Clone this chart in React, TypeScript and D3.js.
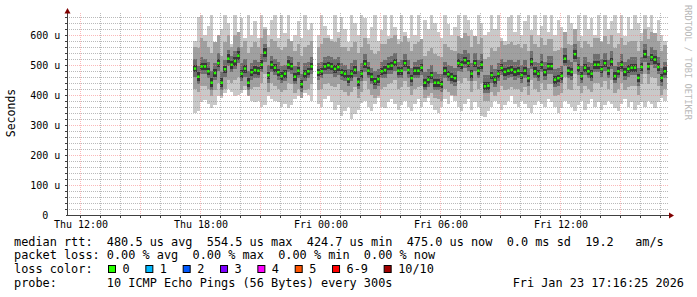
import React from 'react';
import * as d3 from 'd3';

// ---- data (values in microseconds, one sample every 10 minutes from Thu 17:45) ----
const medianUs = [
  487,460,494,494,478,440,472,505,440,485,520,500,512,530,470,487,440,475,482,480,500,540,465,500,490,475,462,470,500,495,460,480,435,470,478,
  494,NaN,474,478,494,498,494,486,492,474,470,452,470,483,443,470,503,480,460,445,452,478,482,494,497,508,480,480,505,482,455,480,480,490,440,450,
  465,440,440,435,480,468,460,455,505,500,515,505,470,505,480,500,428,430,465,450,470,489,476,480,483,476,480,465,480,455,510,478,470,500,475,495,
  495,450,455,463,520,480,476,535,490,462,490,478,470,500,500,485,505,480,510,462,478,500,476,486,490,490,456,492,535,494,525,517,492,456,478,
];
const maxUs = [
  580,660,667,600,630,667,575,585,620,667,640,570,667,610,655,590,667,600,645,590,667,625,600,650,667,590,667,605,667,580,600,645,590,667,615,
  640,NaN,600,667,630,600,585,667,610,660,620,575,667,640,600,667,655,590,625,667,580,615,667,595,667,625,585,667,610,590,667,600,667,580,650,620,
  667,640,610,590,667,635,600,625,667,580,667,650,615,585,667,640,600,610,667,620,667,590,580,660,667,610,667,600,645,667,615,667,600,630,667,610,
  667,600,650,625,585,667,640,610,667,595,667,620,655,600,667,580,667,620,645,667,605,667,595,660,620,667,640,605,667,625,667,585,650,600,580,
];
const minUs = [
  340,345,375,383,370,355,365,395,390,405,420,410,395,400,408,415,400,380,375,380,360,365,395,385,380,375,360,370,355,365,385,395,390,405,400,
  380,NaN,370,360,385,395,375,350,365,330,345,360,320,335,350,372,380,360,345,370,390,360,355,375,385,370,350,365,380,360,345,370,385,360,375,390,
  365,350,340,360,385,370,395,380,360,345,370,385,350,375,360,330,325,345,360,380,370,350,365,380,395,370,360,380,370,355,340,365,380,370,360,385,
  375,360,340,355,380,370,360,345,365,380,350,370,385,360,375,350,365,380,370,355,345,370,385,360,375,350,365,375,360,380,370,355,375,390,380,
];
const midHiUs = [
  560,555,590,580,560,540,575,600,530,575,600,560,600,610,560,580,540,560,575,560,590,620,560,585,580,560,550,560,585,580,545,570,530,560,565,
  580,NaN,560,570,590,590,580,575,590,560,560,545,560,575,540,560,590,570,550,535,545,570,570,585,590,600,570,575,595,575,545,570,575,585,530,545,
  555,535,530,525,570,560,550,545,595,590,605,595,560,595,570,590,520,525,555,545,560,580,565,570,575,565,570,555,570,545,600,570,560,590,565,585,
  585,545,550,555,610,570,565,620,580,555,580,570,560,590,590,575,595,570,600,555,570,590,565,575,580,580,545,580,620,585,610,605,580,545,565,
];
const midLoUs = [
  420,410,430,430,420,395,415,440,395,420,450,440,450,460,415,430,395,420,425,425,440,470,410,440,430,420,410,415,440,435,405,420,390,415,420,
  435,NaN,415,420,435,440,430,425,435,415,410,395,410,425,390,410,445,420,400,390,395,420,425,435,440,450,420,425,445,425,400,420,425,430,390,395,
  405,390,385,380,420,410,400,395,445,440,455,445,410,445,420,440,380,380,410,395,410,430,415,420,425,420,420,410,425,400,450,420,410,440,415,435,
  435,395,400,405,460,420,415,470,430,405,430,420,410,440,440,425,445,420,450,405,420,440,415,425,430,430,400,435,470,435,460,455,430,400,420,
];
const coreHiUs = [
  520,495,525,520,510,480,505,540,475,515,550,530,545,560,505,520,480,505,515,510,535,570,500,530,520,510,495,500,530,525,495,510,470,505,510,
  525,NaN,505,510,525,530,525,520,525,505,500,485,505,515,480,505,535,510,490,480,485,510,515,525,530,540,510,515,535,515,490,510,515,520,475,485,
  500,475,470,470,510,500,495,490,540,535,550,540,505,540,515,535,465,465,500,485,505,520,510,515,515,510,515,500,515,490,545,510,505,535,510,530,
  530,485,490,495,555,515,510,570,525,495,525,510,505,535,535,520,540,515,545,495,510,535,510,520,525,525,490,525,570,530,560,550,525,490,510,
];
const coreLoUs = [
  460,435,470,470,455,415,450,480,415,460,495,475,485,505,445,460,415,450,455,455,475,510,440,475,465,450,440,445,475,470,435,455,410,445,455,
  470,NaN,450,455,470,470,470,460,465,450,445,430,445,460,420,445,475,455,435,420,430,455,455,470,470,480,455,455,480,455,430,455,455,465,415,425,
  440,415,415,410,455,445,435,430,480,475,490,480,445,480,455,475,405,405,440,425,445,465,450,455,460,450,455,440,455,430,485,455,445,475,450,470,
  470,425,430,440,495,455,450,510,465,440,465,455,445,475,475,460,480,455,485,440,455,475,450,460,465,465,430,470,510,470,500,490,470,430,455,
];
const innerHiUs = [
  500,475,505,508,490,455,485,520,455,498,535,512,525,545,482,500,455,488,495,492,515,555,478,512,502,488,475,482,515,508,472,494,450,482,490,
  506,NaN,488,490,508,510,506,500,505,486,484,465,482,496,456,484,516,492,474,458,465,490,495,508,510,520,494,492,518,496,468,492,494,503,454,463,
  478,454,452,448,494,480,474,468,520,512,528,518,484,518,494,514,442,444,478,464,484,502,490,494,496,490,492,478,494,468,524,492,484,514,488,508,
  508,464,468,476,534,494,490,550,504,476,504,492,484,514,512,498,518,494,524,476,492,514,490,500,504,503,470,506,550,508,538,530,506,470,492,
];
const innerLoUs = [
  475,448,482,482,466,428,460,492,428,472,505,488,498,515,458,474,428,462,470,468,488,525,452,488,478,462,450,458,488,482,448,468,422,458,466,
  482,NaN,462,466,482,486,482,474,480,462,458,440,458,470,430,458,490,468,448,432,440,466,470,482,484,496,468,468,492,470,442,468,468,478,428,438,
  452,428,428,422,468,456,448,442,492,488,502,492,458,492,468,488,416,418,452,438,458,476,464,468,470,464,468,452,468,442,496,466,458,488,462,482,
  482,438,442,450,506,468,464,520,478,450,478,466,458,488,488,472,492,468,496,450,466,488,464,474,478,478,444,480,522,482,512,504,480,444,466,
];

const yTickValues = [0, 100, 200, 300, 400, 500, 600];
const yTickLabels = ['0  ', '100 u', '200 u', '300 u', '400 u', '500 u', '600 u'];
const xTickLabels = ['Thu 12:00', 'Thu 18:00', 'Fri 00:00', 'Fri 06:00', 'Fri 12:00'];
const lossLabels = ['0', '1', '2', '3', '4', '5', '6-9', '10/10'];
const lossColors = ['#26ff00', '#00b8ff', '#0059ff', '#7e00ff', '#ff00ff', '#ff5500', '#ff0000', '#a10000'];
const legendLines = [
  'median rtt:  480.5 us avg  554.5 us max  424.7 us min  475.0 us now  0.0 ms sd  19.2   am/s',
  'packet loss: 0.00 % avg  0.00 % max  0.00 % min  0.00 % now',
  'loss color:',
  'probe:       10 ICMP Echo Pings (56 Bytes) every 300s',
];
const dateStamp = 'Fri Jan 23 17:16:25 2026';

const MONO = "'DejaVu Sans Mono', monospace";
const PRE: React.CSSProperties = { whiteSpace: 'pre' };

export default function App() {
  const W = 697, H = 297;
  const left = 67, right = 669, top = 13, bottom = 215;
  const x = d3.scaleTime()
    .domain([new Date(2026, 0, 22, 11, 21), new Date(2026, 0, 23, 17, 27)])
    .range([left, right]);
  const y = d3.scaleLinear().domain([0, 673]).range([bottom, top]);
  const firstSample = new Date(2026, 0, 22, 17, 45);
  const stepMs = 10 * 60 * 1000;
  const tAt = (i: number) => new Date(firstSample.getTime() + i * stepMs);

  const hours = d3.timeHour.range(x.domain()[0], x.domain()[1]);
  const px = (v: number) => Math.round(v) + 0.5;

  const minorY = d3.range(20, 673, 20).filter((v) => v % 100 !== 0);
  const majorY = yTickValues.filter((v) => v > 0);

  const bands: [number[], number[], string][] = [
    [minUs, maxUs, '#c9c9c9'],
    [midLoUs, midHiUs, '#a0a0a0'],
    [coreLoUs, coreHiUs, '#6e6e6e'],
    [innerLoUs, innerHiUs, '#383838'],
  ];

  const advance = 7.14;
  const boxes: { bx: number; label: string; color: string }[] = [];
  let bx = 108;
  lossLabels.forEach((lab, i) => {
    boxes.push({ bx, label: lab, color: lossColors[i] });
    bx = bx + 15 + lab.length * advance + 15.2;
  });

  return (
    <svg width={W} height={H} style={{ position: 'absolute', left: 0, top: 0, background: '#fff' }}>
      <defs>
        <clipPath id="plotclip">
          <rect x={left} y={top} width={right - left} height={bottom - top} />
        </clipPath>
      </defs>
      <rect x={0} y={0} width={W} height={H} fill="#fff" />
      {/* smoke */}
      <g clipPath="url(#plotclip)" shapeRendering="crispEdges">
        {bands.map(([lo, hi, col], b) => (
          <g key={b} fill={col}>
            {medianUs.map((m, i) => {
              if (isNaN(lo[i]) || isNaN(hi[i])) return null;
              const t = tAt(i);
              const x0 = x(new Date(t.getTime() - stepMs / 2));
              const x1 = x(new Date(t.getTime() + stepMs / 2));
              return <rect key={i} x={x0} y={y(hi[i])} width={x1 - x0} height={y(lo[i]) - y(hi[i])} />;
            })}
          </g>
        ))}
      </g>
      {/* grid */}
      <g fill="none" strokeWidth={1} strokeDasharray="1,1">
        {hours.map((h, i) => {
          const major = h.getHours() % 3 === 0;
          return (
            <line key={'v' + i} x1={px(x(h))} x2={px(x(h))} y1={top} y2={bottom}
              stroke={major ? 'rgba(245,128,128,0.55)' : 'rgba(140,140,140,0.6)'} />
          );
        })}
        {minorY.map((v) => (
          <line key={'h' + v} x1={left} x2={right} y1={px(y(v))} y2={px(y(v))} stroke="rgba(140,140,140,0.6)" />
        ))}
        {majorY.map((v) => (
          <line key={'m' + v} x1={left} x2={right} y1={px(y(v))} y2={px(y(v))} stroke="rgba(245,128,128,0.55)" />
        ))}
      </g>
      {/* medians */}
      <g fill={lossColors[0]}>
        {medianUs.map((m, i) => {
          if (isNaN(m)) return null;
          const cx = x(tAt(i));
          return <rect key={i} x={cx - 1.2} y={y(m) - 1.5} width={2.4} height={2.5} />;
        })}
      </g>
      {/* ticks */}
      <g stroke="#404040" strokeWidth={1}>
        {hours.map((h, i) => (
          <line key={'t' + i} x1={px(x(h))} x2={px(x(h))} y1={bottom} y2={bottom + 3} />
        ))}
        {d3.range(20, 673, 20).map((v) => (
          <line key={'yt' + v} x1={left - 2} x2={left} y1={px(y(v))} y2={px(y(v))} />
        ))}
      </g>
      {/* axes */}
      <line x1={px(left)} x2={px(left)} y1={top - 1} y2={bottom + 1} stroke="#404040" />
      <line x1={left - 1} x2={right + 1} y1={px(bottom)} y2={px(bottom)} stroke="#404040" />
      <path d={`M${left - 2.5},13.5 L${left + 0.5},8 L${left + 3.5},13.5 Z`} fill="#800000" />
      <path d={`M${right},${bottom - 2.5} L${right + 5},${bottom + 0.5} L${right},${bottom + 3.5} Z`} fill="#800000" />
      {/* tick labels */}
      <g fontFamily={MONO} fontSize={10} fill="#000">
        {yTickValues.map((v, i) => (
          <text key={v} x={60.3 - yTickLabels[i].length * 6.02} y={y(v) + 3.6} xmlSpace="preserve" style={PRE}>
            {yTickLabels[i]}
          </text>
        ))}
        {xTickLabels.map((lab, i) => {
          const t = new Date(2026, 0, 22, 12 + i * 6, 0);
          return (
            <text key={lab} x={x(t) + 1} y={227.5} textAnchor="middle">{lab}</text>
          );
        })}
      </g>
      <text transform="translate(15,113) rotate(-90)" fontFamily={MONO} fontSize={11.5} textAnchor="middle" fill="#000">Seconds</text>
      <text transform="translate(685,5) rotate(90)" fontFamily={MONO} fontSize={8.7} fill="#b8b8b8">RRDTOOL / TOBI OETIKER</text>
      {/* legend */}
      <g fontFamily={MONO} fontSize={11.86} fill="#000">
        {legendLines.map((line, i) => (
          <text key={i} x={14} y={245.5 + i * 13.9} xmlSpace="preserve" style={PRE}>{line}</text>
        ))}
        <text x={684} y={245.5 + 3 * 13.9} textAnchor="end">{dateStamp}</text>
        {boxes.map((b) => (
          <g key={b.label}>
            <rect x={b.bx + 0.5} y={265.5} width={7} height={7} fill={b.color} stroke="#000" />
            <text x={b.bx + 14.5} y={245.5 + 2 * 13.9}>{b.label}</text>
          </g>
        ))}
      </g>
    </svg>
  );
}
